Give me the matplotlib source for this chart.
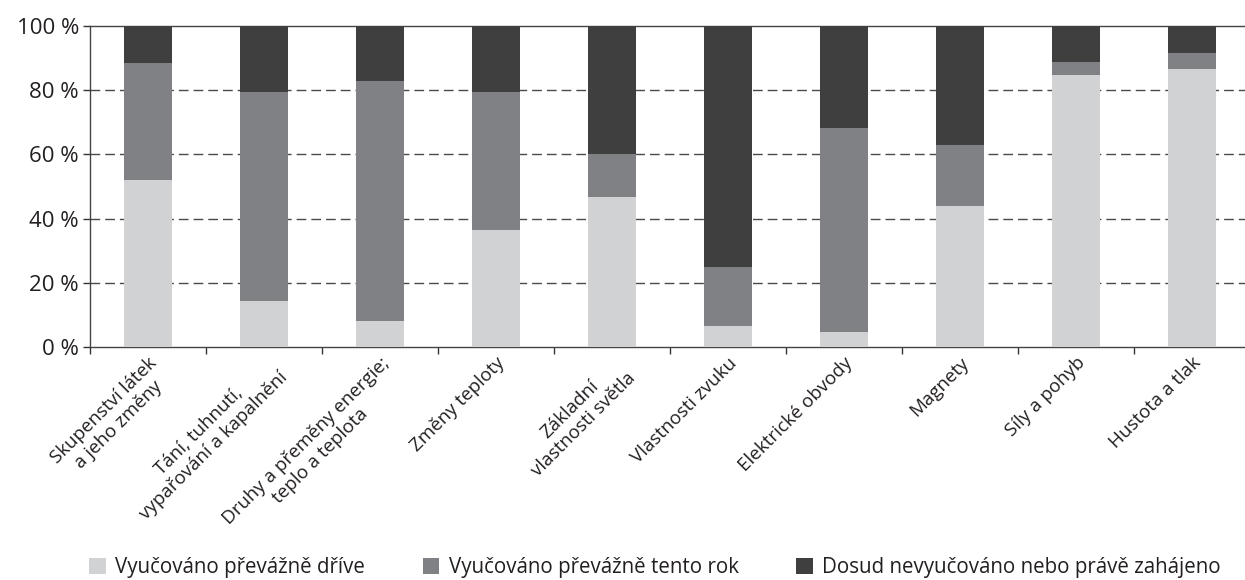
import matplotlib.pyplot as plt
import numpy as np

plt.rcParams["font.family"] = ["Open Sans", "DejaVu Sans"]

categories = [
    "Skupenství látek\na jeho změny",
    "Tání, tuhnutí,\nvypařování a kapalnění",
    "Druhy a přeměny energie;\nteplo a teplota",
    "Změny teploty",
    "Základní\nvlastnosti světla",
    "Vlastnosti zvuku",
    "Elektrické obvody",
    "Magnety",
    "Síly a pohyb",
    "Hustota a tlak",
]
earlier = [52.0, 14.3, 8.1, 36.4, 46.7, 6.5, 4.7, 43.9, 84.7, 86.6]
this_year = [36.6, 65.1, 74.8, 43.0, 13.4, 18.4, 63.5, 19.0, 4.1, 5.0]
not_yet = [11.4, 20.6, 17.1, 20.6, 39.9, 75.1, 31.8, 37.1, 11.2, 8.4]
series_labels = [
    "Vyučováno převážně dříve",
    "Vyučováno převážně tento rok",
    "Dosud nevyučováno nebo právě zahájeno",
]
colors = ["#d1d2d4", "#808184", "#3f3f3f"]
yticks = [0, 20, 40, 60, 80, 100]

fig = plt.figure(figsize=(12.45, 5.8), dpi=100)
ax = fig.add_axes([0.0723, 0.4017, 0.9317, 0.5535])

x = np.arange(len(categories)) + 0.5
bottom = np.zeros(len(categories))
handles = []
for vals, col, lab in zip([earlier, this_year, not_yet], colors, series_labels):
    h = ax.bar(x, vals, width=0.41, bottom=bottom, color=col, label=lab, zorder=3)
    handles.append(h)
    bottom += np.array(vals)

# grid lines
for y in yticks[1:-1]:
    ax.axhline(y, color="#4a4a4a", lw=1.0, ls=(0, (7, 3.6)), zorder=1)

ax.set_xlim(0, len(categories))
ax.set_ylim(0, 100)
ax.set_yticks(yticks)
ax.set_yticklabels([f"{v} %" for v in yticks], fontsize=16, color="#231f20")

ax.set_xticks(x)
ax.set_xticklabels(categories, rotation=45, ha="right", va="top",
                   rotation_mode="anchor", multialignment="center",
                   fontsize=13.5, color="#231f20")
ax.set_xticks(np.arange(len(categories) + 1), minor=True)
ax.tick_params(axis="x", which="major", length=0, pad=5)
ax.tick_params(axis="x", which="minor", length=5, color="#333333", width=1)
ax.tick_params(axis="y", length=5, color="#333333", width=1, pad=3)

for side in ["left", "bottom", "top"]:
    ax.spines[side].set_color("#444444")
    ax.spines[side].set_linewidth(1.0)
ax.spines["right"].set_visible(False)

leg = fig.legend(handles, series_labels, loc="center left", bbox_to_anchor=(0.0715, 0.021),
                 ncol=3, frameon=False, fontsize=14.8, handlelength=0.82, handleheight=0.82,
                 handletextpad=0.45, columnspacing=2.8, borderaxespad=0, borderpad=0)
for t in leg.get_texts():
    t.set_color("#231f20")

plt.savefig("out.png", dpi=100)
plt.close()
